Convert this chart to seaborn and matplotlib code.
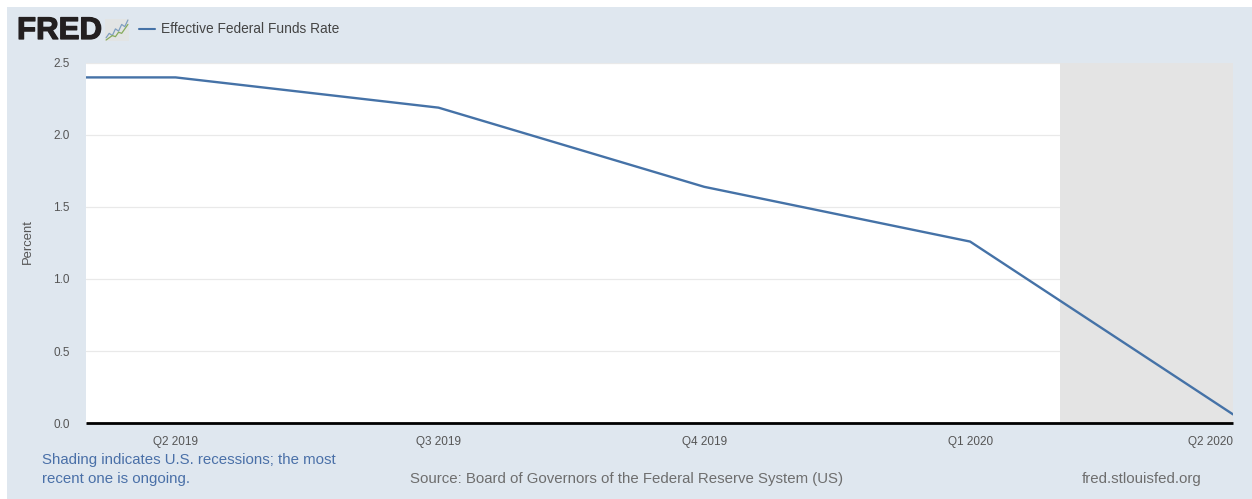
import pandas as pd
import matplotlib
matplotlib.use("Agg")
import matplotlib.pyplot as plt
import matplotlib.patheffects as pe
import seaborn as sns

# Data
quarters = ["2019-01-01", "2019-04-01", "2019-07-01", "2019-10-01", "2020-01-01", "2020-04-01"]
rates = [2.40, 2.40, 2.19, 1.64, 1.26, 0.06]
tick_dates = ["2019-04-01", "2019-07-01", "2019-10-01", "2020-01-01", "2020-04-01"]
tick_labels = ["Q2 2019", "Q3 2019", "Q4 2019", "Q1 2020", "Q2 2020"]
y_ticks = [0.0, 0.5, 1.0, 1.5, 2.0, 2.5]
recession = ["2020-02-01", "2020-04-01"]
view_start = "2019-03-01"
view_end = "2020-04-01"
series_name = "Effective Federal Funds Rate"
logo_blue = [1, 3, 2, 5, 4, 7, 6, 9]
logo_green = [0, 1, 2, 1.5, 3.5, 3, 5, 7]

W, H = 1252, 499
BG = "#dfe7ef"
LINE = "#4572a7"

sns.set_theme(style="white")
plt.rcParams["font.family"] = ["Liberation Sans", "DejaVu Sans"]

df = pd.DataFrame({"date": pd.to_datetime(quarters), "rate": rates})

fig = plt.figure(figsize=(W / 100, H / 100), dpi=100, facecolor="white")
fig.add_artist(plt.Rectangle((7 / W, 0), 1 - 7 / W, 1 - 7 / H, transform=fig.transFigure,
                             facecolor=BG, edgecolor="none", zorder=-10))

ax = fig.add_axes([86 / W, 1 - 423 / H, (1233 - 86) / W, (423 - 63) / H])
ax.set_facecolor("white")
ax.axvspan(pd.Timestamp(recession[0]), pd.Timestamp(recession[1]), color="#e4e4e4", lw=0, zorder=1)
ax.grid(True, axis="y", color="#e9e9e9", lw=0.9, zorder=0)
ax.grid(False, axis="x")
ax.set_axisbelow(True)
sns.lineplot(data=df, x="date", y="rate", ax=ax, color=LINE, lw=1.7, zorder=3, legend=False)

ax.set_xlim(pd.Timestamp(view_start), pd.Timestamp(view_end))
ax.set_ylim(0, 2.5)
ax.set_yticks(y_ticks)
ax.set_yticklabels([f"{v:.1f}" for v in y_ticks], fontsize=8.5, color="#555555")
ax.set_xticks(pd.to_datetime(tick_dates))
xlabels = ax.set_xticklabels(tick_labels, fontsize=8.5, color="#555555")
xlabels[-1].set_ha("right")
ax.tick_params(axis="y", length=0, pad=11.5)
ax.tick_params(axis="x", length=7, width=0.8, color="#cfdcec", pad=2)
ax.set_xlabel("")
ax.set_ylabel("")
for s in ["top", "left", "right"]:
    ax.spines[s].set_visible(False)
ax.spines["bottom"].set_color("black")
ax.spines["bottom"].set_linewidth(2.0)
ax.spines["bottom"].set_capstyle("butt")
ax.spines["bottom"].set_zorder(5)

def put(x, y, s, **kw):
    return fig.text(x / W, 1 - y / H, s, va="center", **kw)

put(28, 242, "Percent", fontsize=9.4, color="#555555", rotation=90, ha="center")

# Logo and legend
logo_text = put(17, 31, "FRED", fontsize=22.5, fontweight="bold", color="#231f20")
logo_text.set_path_effects([pe.withStroke(linewidth=0.9, foreground="#231f20")])
logo = fig.add_axes([105 / W, 1 - 41 / H, 24 / W, 22 / H], facecolor="#e2e4e4")
logo.plot(logo_blue, color="#7f9fc0", lw=0.9)
logo.plot(logo_green, color="#86ab5c", lw=0.9)
logo.set_xticks([]); logo.set_yticks([]); logo.grid(False)
for s in logo.spines.values():
    s.set_visible(False)
fig.add_artist(plt.Line2D([139 / W, 155 / W], [1 - 29 / H, 1 - 29 / H], color=LINE, lw=1.5))
put(161, 29, series_name, fontsize=9.9, color="#444444")

# Footer
put(42, 460, "Shading indicates U.S. recessions; the most", fontsize=10.8, color="#4a70a8")
put(42, 478.5, "recent one is ongoing.", fontsize=10.8, color="#4a70a8")
put(410, 478.5, "Source: Board of Governors of the Federal Reserve System (US)", fontsize=10.8, color="#6e6e6e")
put(1082, 478.5, "fred.stlouisfed.org", fontsize=10.8, color="#6e6e6e")

fig.savefig("out.png", dpi=100, facecolor="white")
